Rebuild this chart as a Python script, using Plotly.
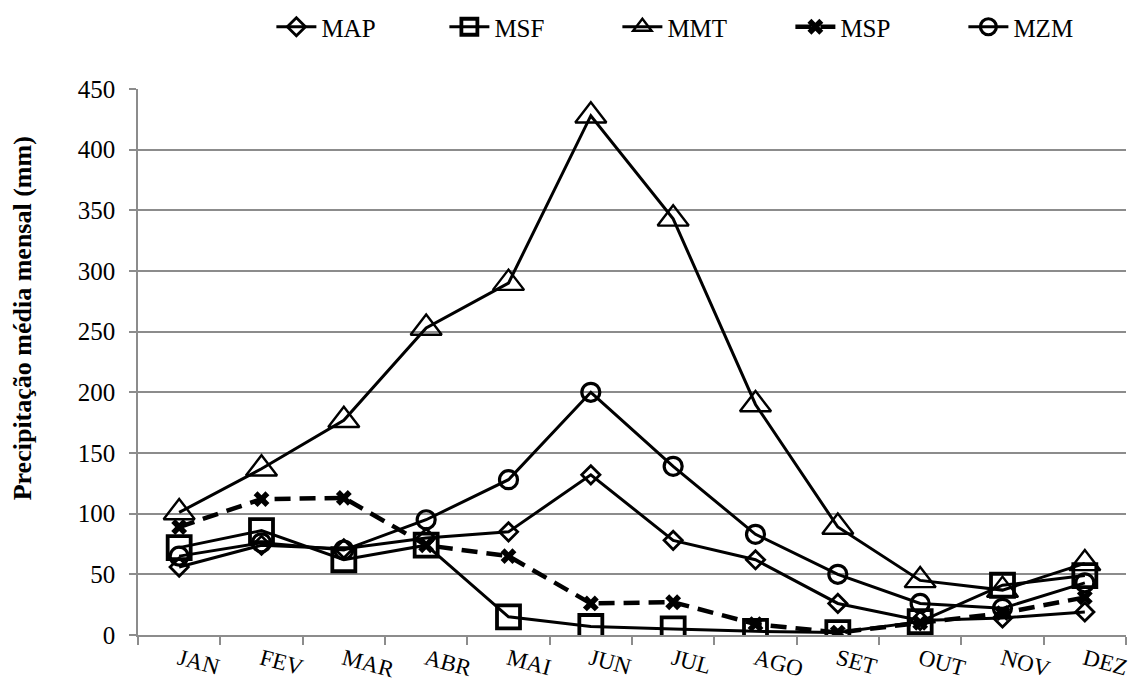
import plotly.graph_objects as go

months = ["JAN", "FEV", "MAR", "ABR", "MAI", "JUN", "JUL", "AGO", "SET", "OUT", "NOV", "DEZ"]
MAP = [56, 74, 71, 80, 85, 132, 78, 62, 26, 12, 14, 19]
MSF = [72, 86, 62, 74, 15, 7, 5, 3, 2, 11, 41, 49]
MMT = [101, 137, 177, 253, 290, 428, 343, 190, 89, 45, 37, 59]
MSP = [89, 112, 113, 74, 65, 26, 27, 9, 2, 10, 18, 31]
MZM = [65, 76, 70, 95, 128, 200, 139, 83, 50, 26, 22, 43]
yticks = [0, 50, 100, 150, 200, 250, 300, 350, 400, 450]
ytitle = "Precipitação média mensal (mm)"

font = "Liberation Serif, Times New Roman, serif"
grey = "#8c8c8c"
fig = go.Figure()

def add(name, y, symbol, size, mlw, dash="solid", lw=3):
    fig.add_trace(go.Scatter(
        x=months, y=y, name=name, mode="lines+markers",
        line=dict(color="black", width=lw, dash=dash),
        marker=dict(symbol=symbol, size=size, color="black",
                    line=dict(color="black", width=mlw)),
    ))

add("MAP", MAP, "diamond-open", 14, 2.8)
add("MSF", MSF, "square-open", 23, 3.8)
add("MMT", MMT, "triangle-up-open", 27, 2.4)
add("MSP", MSP, "x", 14, 0, dash="16px,9px", lw=4.5)
add("MZM", MZM, "circle-open", 18, 3.2)

fig.update_layout(
    width=1137, height=682,
    margin=dict(l=138, r=11, t=89, b=47, autoexpand=False),
    paper_bgcolor="white", plot_bgcolor="white",
    font=dict(family=font, size=25, color="black"),
    showlegend=True,
    legend=dict(orientation="h", x=0.135, xanchor="left", yref="container", y=1 - 27 / 682,
                yanchor="middle", font=dict(size=25, family=font), itemwidth=40,
                entrywidth=118, entrywidthmode="pixels"),
)
fig.add_annotation(
    text="<b>" + ytitle + "</b>", xref="paper", yref="paper", x=-0.1174, y=0.58,
    xanchor="center", yanchor="middle", textangle=-90, showarrow=False,
    font=dict(size=26, family=font, color="black"),
)
fig.update_xaxes(
    type="category", range=[-0.5, 11.5], tickangle=15, tickson="boundaries",
    ticks="outside", ticklen=8, tickcolor=grey, tickwidth=1.5, showline=True, linecolor=grey,
    linewidth=1.5, showgrid=False, tickfont=dict(size=23, family=font),
)
fig.update_yaxes(
    range=[0, 450], tickvals=yticks, ticks="outside", ticklen=7, tickcolor=grey, tickwidth=1.5,
    showline=True, linecolor=grey, linewidth=1.5, showgrid=True, gridcolor=grey,
    gridwidth=1.5, zeroline=False, tickfont=dict(size=25, family=font), ticklabelstandoff=9,
)
fig.write_html("out.html")
